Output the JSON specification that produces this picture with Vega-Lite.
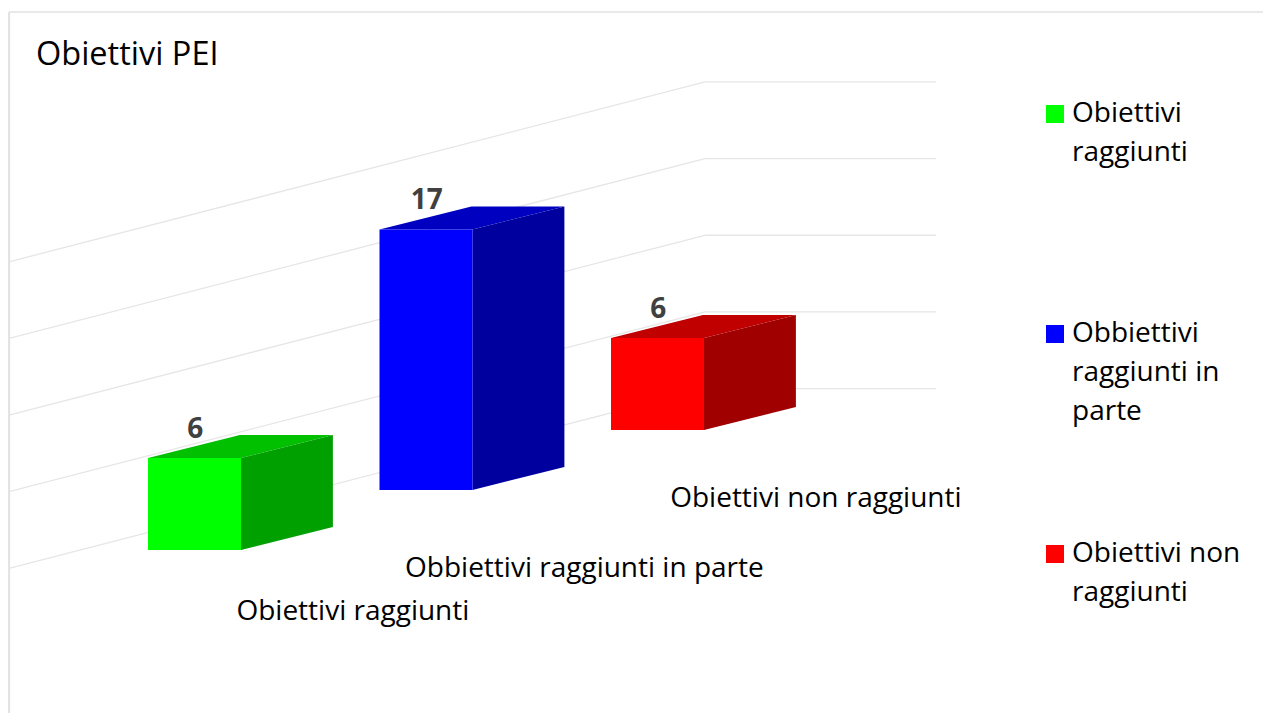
{"$schema":"https://vega.github.io/schema/vega-lite/v6.json","width":1263,"height":713,"padding":0,"autosize":{"type":"none"},"background":"white","view":{"stroke":null},
"title":{"text":"Obiettivi PEI","anchor":"start","frame":"group","offset":0,"dx":36,"dy":104,"baseline":"bottom","font":"Open Sans","fontSize":32.5,"fontWeight":"normal","color":"#000000"},
"datasets":{"barre":[{"categoria":"Obiettivi raggiunti","valore":6,"ordine":0},{"categoria":"Obbiettivi raggiunti in parte","valore":17,"ordine":1},{"categoria":"Obiettivi non raggiunti","valore":6,"ordine":2}],"griglia":[{"livello":0},{"livello":5},{"livello":10},{"livello":15},{"livello":20}],"cornice":[{"bordo":"telaio"}]},
"encoding":{"x":{"type":"quantitative","scale":{"domain":[-0.6393,4.8164],"nice":false,"zero":false},"axis":null},"y":{"type":"quantitative","scale":{"domain":[-10.633,35.877],"nice":false,"zero":false},"axis":null}},
"layer":[
{"data":{"name":"griglia"},"transform":[{"calculate":"-0.596","as":"xa"},{"calculate":"2.406","as":"xb"},{"calculate":"datum.livello-1.183","as":"ya"},{"calculate":"datum.livello+10.53","as":"yb"}],"mark":{"type":"rule","color":"#e6e6e6","strokeWidth":1.3},"encoding":{"x":{"field":"xa"},"x2":{"field":"xb"},"y":{"field":"ya"},"y2":{"field":"yb"}}},
{"data":{"name":"griglia"},"transform":[{"calculate":"2.406","as":"xa"},{"calculate":"3.404","as":"xb"},{"calculate":"datum.livello+10.53","as":"yb"}],"mark":{"type":"rule","color":"#e6e6e6","strokeWidth":1.3},"encoding":{"x":{"field":"xa"},"x2":{"field":"xb"},"y":{"field":"yb"}}},
{"data":{"name":"cornice"},"mark":{"type":"rule","color":"#e2e2e2","strokeWidth":2},"encoding":{"x":{"datum":-0.6},"y":{"datum":-10.633},"y2":{"datum":35.09}}},
{"data":{"name":"cornice"},"mark":{"type":"rule","color":"#e2e2e2","strokeWidth":1.5},"encoding":{"x":{"datum":-0.6},"x2":{"datum":4.8164},"y":{"datum":35.09}}},
{"data":{"name":"barre"},"transform":[{"calculate":"[0,1]","as":"d"},{"flatten":["d"]},{"calculate":"datum.ordine+datum.d*0.397","as":"xa"},{"calculate":"datum.xa+0.4017","as":"xb"},{"calculate":"datum.ordine*3.914+datum.valore+datum.d*1.5","as":"ya"}],"mark":{"type":"area","orient":"horizontal"},"encoding":{"y":{"field":"ya"},"x":{"field":"xa"},"x2":{"field":"xb"},"color":{"field":"categoria","type":"nominal","legend":null,"scale":{"domain":["Obiettivi raggiunti","Obbiettivi raggiunti in parte","Obiettivi non raggiunti"],"range":["#00c000","#0000c0","#c00000"]}}}},
{"data":{"name":"barre"},"transform":[{"calculate":"[0,1]","as":"d"},{"flatten":["d"]},{"calculate":"datum.ordine+0.4017+datum.d*0.397","as":"xa"},{"calculate":"datum.ordine*3.914+datum.d*1.5","as":"ya"},{"calculate":"datum.ya+datum.valore","as":"yb"}],"mark":{"type":"area","orient":"vertical"},"encoding":{"x":{"field":"xa"},"y":{"field":"ya"},"y2":{"field":"yb"},"color":{"field":"categoria","type":"nominal","legend":null,"scale":{"domain":["Obiettivi raggiunti","Obbiettivi raggiunti in parte","Obiettivi non raggiunti"],"range":["#00a000","#00009e","#a00000"]}}}},
{"data":{"name":"barre"},"transform":[{"calculate":"datum.ordine+0.4017","as":"xb"},{"calculate":"datum.ordine*3.914","as":"ya"},{"calculate":"datum.ya+datum.valore","as":"yb"}],"mark":{"type":"rect"},"encoding":{"x":{"field":"ordine"},"x2":{"field":"xb"},"y":{"field":"ya"},"y2":{"field":"yb"},"color":{"field":"categoria","type":"nominal","scale":{"domain":["Obiettivi raggiunti","Obbiettivi raggiunti in parte","Obiettivi non raggiunti"],"range":["#00ff00","#0000ff","#ff0000"]},"legend":{"title":null,"orient":"none","legendX":1041,"legendY":100,"columns":1,"gridAlign":"all","padding":0,"rowPadding":114,"symbolType":"square","symbolSize":324,"symbolStrokeWidth":0,"labelOffset":3,"labelFont":"Open Sans","labelFontSize":28,"labelColor":"#000000","labelLimit":400,"labelExpr":"datum.label=='Obiettivi raggiunti'?['Obiettivi','raggiunti']:datum.label=='Obiettivi non raggiunti'?['Obiettivi non','raggiunti']:['Obbiettivi','raggiunti in','parte']","encoding":{"labels":{"lineHeight":{"value":39}}}}}}},
{"data":{"name":"barre"},"transform":[{"calculate":"datum.ordine+0.204","as":"xt"},{"calculate":"datum.ordine*3.914+datum.valore+1.85","as":"yt"}],"mark":{"type":"text","font":"Open Sans","fontSize":28,"fontWeight":"bold","color":"#404040","baseline":"middle"},"encoding":{"x":{"field":"xt"},"y":{"field":"yt"},"text":{"field":"valore","type":"quantitative"}}},
{"data":{"name":"barre"},"transform":[{"calculate":"datum.ordine+0.885","as":"xt"},{"calculate":"[-4.03,-1.23,3.34][datum.ordine]","as":"yt"}],"mark":{"type":"text","font":"Open Sans","fontSize":28,"color":"#000000","baseline":"middle"},"encoding":{"x":{"field":"xt"},"y":{"field":"yt"},"text":{"field":"categoria","type":"nominal"}}}
],
"resolve":{"scale":{"color":"independent"}}}
